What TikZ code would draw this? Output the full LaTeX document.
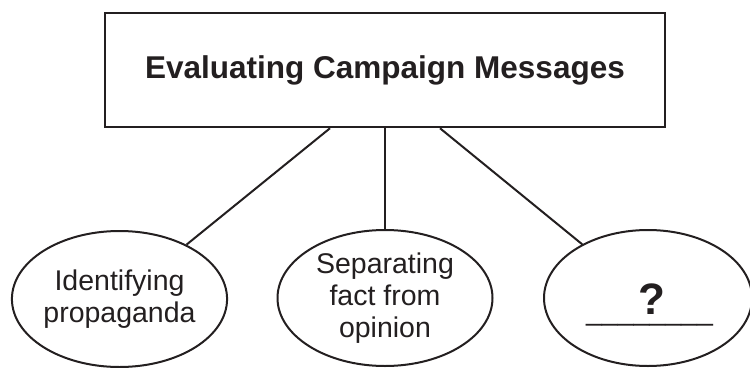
\documentclass[tikz,border=0pt]{standalone}
\usepackage{fontspec}
\setmainfont{Liberation Sans}
\usetikzlibrary{shapes.geometric}
\definecolor{ink}{HTML}{231F20}
\begin{document}
\begin{tikzpicture}[x=1pt,y=-1pt,
  titlebox/.style={draw=ink, line width=2pt, rectangle, minimum width=560pt, minimum height=114.5pt, inner sep=0pt, text=ink, font=\bfseries\fontsize{31.5}{36}\selectfont},
  topic/.style={ellipse, draw=ink, line width=2pt, minimum width=215pt, minimum height=136pt, inner sep=0pt, align=center, text=ink, font=\fontsize{28.5}{32}\selectfont},
  link/.style={draw=ink, line width=2pt},
  mark text/.style={inner sep=0pt, text=ink}]
\useasboundingbox (0,0) rectangle (750,367);
\node[topic] (left) at (119.5,299) {Identifying\\propaganda};
\node[topic] (mid) at (385,298) {Separating\\fact from\\opinion};
\node[topic, minimum width=208pt] (right) at (648,298) {};
\node[titlebox] (title) at (385,70) {Evaluating Campaign Messages};
\node[mark text, anchor=base, text depth=0pt, font=\bfseries\fontsize{44}{48}\selectfont] (qmark) at (652,314) {?};
\node[mark text, anchor=base, text height=0pt, font=\fontsize{28.5}{33}\selectfont] (blank) at (649.5,320) {\_\_\_\_\_\_\_\_};
\path (title.south) ++(-55,0) coordinate (jl);
\path (title.south) ++(55,0) coordinate (jr);
\draw[link] (jl) -- (left);
\draw[link] (title.south) -- (mid);
\draw[link] (jr) -- (right);
\end{tikzpicture}
\end{document}
